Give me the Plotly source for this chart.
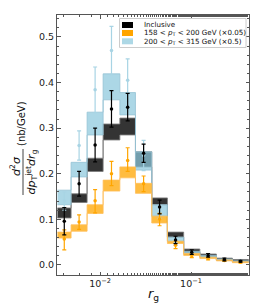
import numpy as np
import plotly.graph_objects as go

# ---------------- data ----------------
edges = [0.0034, 0.0048, 0.0072, 0.0108, 0.0165, 0.0245, 0.037, 0.055, 0.083, 0.125, 0.19, 0.285, 0.43]

incl_val = [0.096, 0.178, 0.263, 0.342, 0.346, 0.245, 0.127, 0.055, 0.028, 0.021, 0.012, 0.008]
incl_err = [0.030, 0.027, 0.037, 0.040, 0.030, 0.020, 0.015, 0.008, 0.005, 0.004, 0.003, 0.002]
incl_lo = [0.103, 0.137, 0.205, 0.274, 0.285, 0.215, 0.132, 0.061, 0.028, 0.019, 0.011, 0.008]
incl_hi = [0.125, 0.156, 0.234, 0.309, 0.322, 0.248, 0.147, 0.072, 0.035, 0.024, 0.015, 0.012]

low_val = [0.057, 0.094, 0.141, 0.200, 0.229, 0.178, 0.101, 0.043, 0.020, 0.014, 0.010, 0.006]
low_errp = [0.020, 0.016, 0.024, 0.027, 0.028, 0.017, 0.012, 0.009, 0.004, 0.003, 0.002, 0.002]
low_errm = [0.024, 0.016, 0.027, 0.026, 0.024, 0.017, 0.015, 0.007, 0.004, 0.003, 0.002, 0.002]
low_lo = [0.059, 0.074, 0.113, 0.162, 0.191, 0.157, 0.092, 0.047, 0.021, 0.014, 0.009, 0.005]
low_hi = [0.072, 0.088, 0.132, 0.186, 0.215, 0.179, 0.107, 0.052, 0.025, 0.017, 0.011, 0.007]

high_val = [0.140, 0.262, 0.384, 0.470, 0.405, 0.240, 0.116, 0.050, 0.026, 0.019, 0.012, 0.008]
high_err = [0.020, 0.032, 0.050, 0.053, 0.047, 0.033, 0.014, 0.007, 0.004, 0.003, 0.002, 0.002]
high_lo = [0.132, 0.193, 0.285, 0.362, 0.329, 0.208, 0.107, 0.052, 0.024, 0.017, 0.011, 0.007]
high_hi = [0.164, 0.225, 0.335, 0.419, 0.378, 0.248, 0.132, 0.061, 0.030, 0.021, 0.013, 0.009]

legend_labels = ["Inclusive",
                 "158 &lt; <i>p</i><sub>T</sub> &lt; 200 GeV (×0.05)",
                 "200 &lt; <i>p</i><sub>T</sub> &lt; 315 GeV (×0.5)"]

x_ticks = [0.01, 0.1]
x_ticktext = ["10<sup>−2</sup>", "10<sup>−1</sup>"]

# ---------------- helpers ----------------
centers = [np.sqrt(edges[i] * edges[i + 1]) for i in range(len(edges) - 1)]


def box_poly(lo, hi):
    xs, ys = [], []
    for i in range(len(lo)):
        a, b = edges[i], edges[i + 1]
        xs += [a, b, b, a, a, None]
        ys += [lo[i], lo[i], hi[i], hi[i], lo[i], None]
    return xs, ys


def step(vals):
    return list(edges), list(vals) + [vals[-1]]


fig = go.Figure()

series = [
    dict(lo=incl_lo, hi=incl_hi, fill="rgba(35,35,35,0.92)", line="rgba(125,125,125,0.85)"),
    dict(lo=high_lo, hi=high_hi, fill="rgba(140,200,220,0.72)", line="rgba(150,195,212,0.8)"),
    dict(lo=low_lo, hi=low_hi, fill="rgba(255,165,0,0.75)", line="rgba(255,190,90,0.8)"),
]
for s in series:
    xs, ys = box_poly(s["lo"], s["hi"])
    fig.add_trace(go.Scatter(x=xs, y=ys, mode="lines", fill="toself", fillcolor=s["fill"],
                             line=dict(width=0), hoverinfo="skip", showlegend=False))
    for v in (s["lo"], s["hi"]):
        sx, sy = step(v)
        fig.add_trace(go.Scatter(x=sx, y=sy, mode="lines", line=dict(color=s["line"], width=1, shape="hv"),
                                 hoverinfo="skip", showlegend=False))

pts = [
    (high_val, high_err, high_err, "#a8d4e4"),
    (low_val, low_errp, low_errm, "#ffa500"),
    (incl_val, incl_err, incl_err, "#000000"),
]
for v, ep, em, c in pts:
    fig.add_trace(go.Scatter(x=centers, y=v, mode="markers",
                             marker=dict(color=c, size=3.5),
                             error_y=dict(type="data", array=ep, arrayminus=em, color=c,
                                          thickness=1.2, width=2),
                             showlegend=False))

# ---------------- layout ----------------
# page body has an 8px margin; compensate so the plot lands where the reference has it
OX, OY = 8, 8
W, H = 262 - OX, 306 - OY
PL, PR, PT, PB = 57, 249, 15, 275  # plot-area box in window pixels
L, T = PL - OX, PT - OY
R, B = W - (PR - OX), H - (PB - OY)
pw, ph = PR - PL, PB - PT


def px(x):
    return (x - PL) / pw


def py(y):
    return (PB - y) / ph


fig.update_layout(
    width=W, height=H,
    margin=dict(l=L, r=R, t=T, b=B, pad=0),
    paper_bgcolor="white", plot_bgcolor="white",
    font=dict(family="DejaVu Sans", size=9.5, color="#222"),
    showlegend=False,
)
fig.update_xaxes(type="log", range=[np.log10(0.00336), np.log10(0.434)],
                 showline=True, linecolor="#555", linewidth=1, mirror="allticks",
                 ticks="inside", ticklen=3.5, tickcolor="#555",
                 tickvals=x_ticks, ticktext=x_ticktext, showgrid=False, zeroline=False,
                 minor=dict(ticks="inside", ticklen=2, tickcolor="#555", showgrid=False))
fig.update_yaxes(range=[-0.022, 0.548], dtick=0.1, tickformat=".1f",
                 showline=True, linecolor="#555", linewidth=1, mirror="allticks",
                 ticks="inside", ticklen=3.5, tickcolor="#555", showgrid=False, zeroline=False,
                 minor=dict(ticks="inside", ticklen=2, dtick=0.02, tickcolor="#555", showgrid=False))

# legend (manual)
fig.add_shape(type="rect", xref="paper", yref="paper",
              x0=px(119.5), x1=px(246), y0=py(47.5), y1=py(18.5),
              line=dict(color="#ccc", width=1), fillcolor="rgba(255,255,255,0.85)")
leg_cols = ["#000000", "#ffa500", "#add8e6"]
rows = [25, 33, 41.3]
for lab, col, ry in zip(legend_labels, leg_cols, rows):
    fig.add_shape(type="rect", xref="paper", yref="paper",
                  x0=px(122), x1=px(133), y0=py(ry + 3), y1=py(ry - 3),
                  line=dict(width=0), fillcolor=col)
    fig.add_annotation(xref="paper", yref="paper", x=px(142), y=py(ry), text=lab,
                       showarrow=False, xanchor="left", yanchor="middle",
                       font=dict(size=7.1, color="#111"))

# y-axis title as fraction
fig.add_annotation(xref="paper", yref="paper", x=px(16), y=py(166),
                   text="<i>d</i><sup>2</sup><i>σ</i>", textangle=-90, showarrow=False,
                   xanchor="center", yanchor="middle",
                   font=dict(size=11, color="#111"))
fig.add_shape(type="line", xref="paper", yref="paper", x0=px(23), x1=px(23),
              y0=py(149), y1=py(195), line=dict(color="#111", width=0.8))
fig.add_annotation(xref="paper", yref="paper", x=px(31.5), y=py(172),
                   text="<i>dp</i><sub>T</sub><sup>jet</sup><i>dr</i><sub>g</sub>", textangle=-90,
                   xanchor="center", yanchor="middle",
                   showarrow=False, font=dict(size=11, color="#111"))
fig.add_annotation(xref="paper", yref="paper", x=px(22), y=py(124),
                   text="(nb/GeV)", textangle=-90, showarrow=False,
                   xanchor="center", yanchor="middle",
                   font=dict(size=10, color="#111"))
# x title
fig.add_annotation(xref="paper", yref="paper", x=px(153), y=py(294),
                   text="<i>r</i><sub>g</sub>", showarrow=False,
                   xanchor="center", yanchor="middle",
                   font=dict(size=13, color="#111"))

fig.write_html("out.html")
